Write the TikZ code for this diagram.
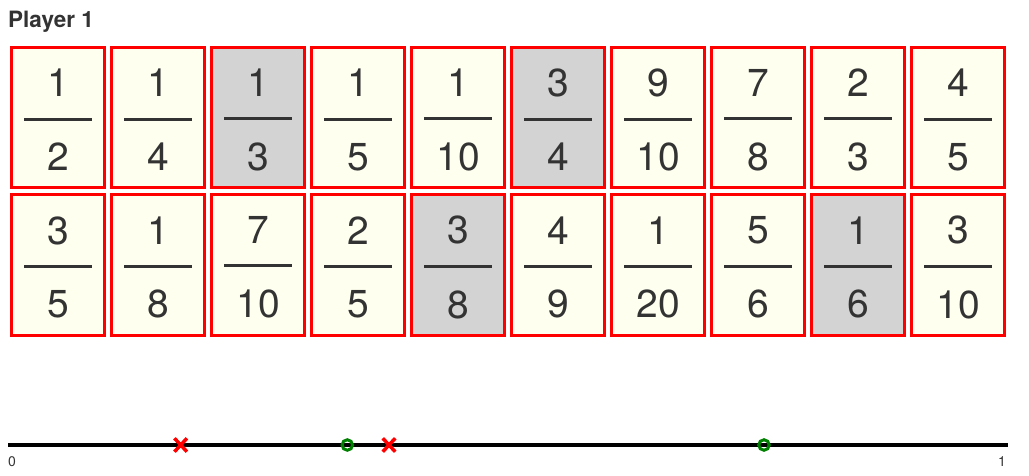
\documentclass[tikz,border=0pt]{standalone}
\usepackage{fontspec}
\setmainfont{TeX Gyre Heros}
\usetikzlibrary{shapes.misc}
\definecolor{ink}{HTML}{333333}
\definecolor{cardbg}{HTML}{FFFFF0}
\definecolor{pickbg}{HTML}{D3D3D3}
\definecolor{okgreen}{HTML}{008000}
\newcommand{\fr}[2]{\vbox{\kern5pt\hbox to 68pt{\hss#1\hss}\kern20.5pt\hrule height 3pt\kern22.5pt\hbox to 68pt{\hss#2\hss}}}

\begin{document}
\begin{tikzpicture}[x=1pt,y=1pt,card/.style={rectangle,draw=red,fill=cardbg,line width=3pt,minimum width=93pt,minimum height=140.5pt,inner sep=0pt,text=ink,font=\fontsize{39pt}{39pt}\selectfont},picked/.style={card,fill=pickbg},miss/.style={cross out,draw=red,line width=3.5pt,minimum width=9pt,minimum height=10pt,inner sep=0pt},hit/.style={circle,draw=okgreen,line width=3pt,minimum size=10.5pt,inner sep=0pt},tick/.style={inner sep=0pt,text=ink,font=\fontsize{14pt}{14pt}\selectfont}]
  \useasboundingbox (0,0) rectangle (1029,-476);
  \node[anchor=base west,inner sep=0pt,text=ink,font=\fontsize{22.5pt}{22.5pt}\selectfont\bfseries] (title) at (8,-27.7) {Player 1};

  % first row
  \node[card] (1) at (58,-117.5) {\fr{1}{2}};
  \node[card] (2) at (158,-117.5) {\fr{1}{4}};
  \node[picked] (3) at (258,-117.5) {\fr{1}{3}};
  \node[card] (4) at (358,-117.5) {\fr{1}{5}};
  \node[card] (5) at (458,-117.5) {\fr{1}{10}};
  \node[picked] (6) at (558,-117.5) {\fr{3}{4}};
  \node[card] (7) at (658,-117.5) {\fr{9}{10}};
  \node[card] (8) at (758,-117.5) {\fr{7}{8}};
  \node[card] (9) at (858,-117.5) {\fr{2}{3}};
  \node[card] (10) at (958,-117.5) {\fr{4}{5}};

  % second row
  \node[card] (11) at (58,-265) {\fr{3}{5}};
  \node[card] (12) at (158,-265) {\fr{1}{8}};
  \node[card] (13) at (258,-265) {\fr{7}{10}};
  \node[card] (14) at (358,-265) {\fr{2}{5}};
  \node[picked] (15) at (458,-265) {\fr{3}{8}};
  \node[card] (16) at (558,-265) {\fr{4}{9}};
  \node[card] (17) at (658,-265) {\fr{1}{20}};
  \node[card] (18) at (758,-265) {\fr{5}{6}};
  \node[picked] (19) at (858,-265) {\fr{1}{6}};
  \node[card] (20) at (958,-265) {\fr{3}{10}};

  % number line
  \coordinate (lo) at (8,-445);
  \coordinate (hi) at (1008,-445);
  \draw[line width=4pt] (lo) -- (hi);
  \node[tick,anchor=north west] (zero) at (8,-456) {0};
  \node[tick,anchor=north east] (one) at (1006,-456) {1};

  \node[miss] (x1) at (180.7,-445) {};
  \node[hit] (o1) at (347.3,-445) {};
  \node[miss] (x2) at (389,-445) {};
  \node[hit] (o2) at (764,-445) {};
\end{tikzpicture}
\end{document}
